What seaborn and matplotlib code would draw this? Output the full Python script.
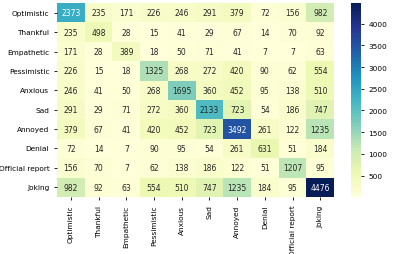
import numpy as np
import pandas as pd
import matplotlib
matplotlib.use("Agg")
import matplotlib.pyplot as plt
import seaborn as sns

labels = ["Optimistic", "Thankful", "Empathetic", "Pessimistic", "Anxious",
          "Sad", "Annoyed", "Denial", "Official report", "Joking"]

optimistic = [2373, 235, 171, 226, 246, 291, 379, 72, 156, 982]
thankful = [235, 498, 28, 15, 41, 29, 67, 14, 70, 92]
empathetic = [171, 28, 389, 18, 50, 71, 41, 7, 7, 63]
pessimistic = [226, 15, 18, 1325, 268, 272, 420, 90, 62, 554]
anxious = [246, 41, 50, 268, 1695, 360, 452, 95, 138, 510]
sad = [291, 29, 71, 272, 360, 2133, 723, 54, 186, 747]
annoyed = [379, 67, 41, 420, 452, 723, 3492, 261, 122, 1235]
denial = [72, 14, 7, 90, 95, 54, 261, 631, 51, 184]
official = [156, 70, 7, 62, 138, 186, 122, 51, 1207, 95]
joking = [982, 92, 63, 554, 510, 747, 1235, 184, 95, 4476]

rows = [optimistic, thankful, empathetic, pessimistic, anxious,
        sad, annoyed, denial, official, joking]
df = pd.DataFrame(rows, index=labels, columns=labels)

fig = plt.figure(figsize=(4.07, 2.55), dpi=100)
ax = fig.add_axes([0.14, 0.224, 0.681, 0.76])
cax = fig.add_axes([0.862, 0.224, 0.025, 0.76])

sns.heatmap(df, annot=True, fmt="d", cmap="YlGnBu", ax=ax, cbar_ax=cax,
            annot_kws={"fontsize": 5.5})
ax.tick_params(labelsize=5.3, length=2, width=0.6)
cax.tick_params(labelsize=5.3, length=2, width=0.6)
cax.set_yticks([500, 1000, 1500, 2000, 2500, 3000, 3500, 4000])
plt.setp(ax.get_xticklabels(), rotation=90)
plt.setp(ax.get_yticklabels(), rotation=0)

fig.savefig("out.png", dpi=100)
